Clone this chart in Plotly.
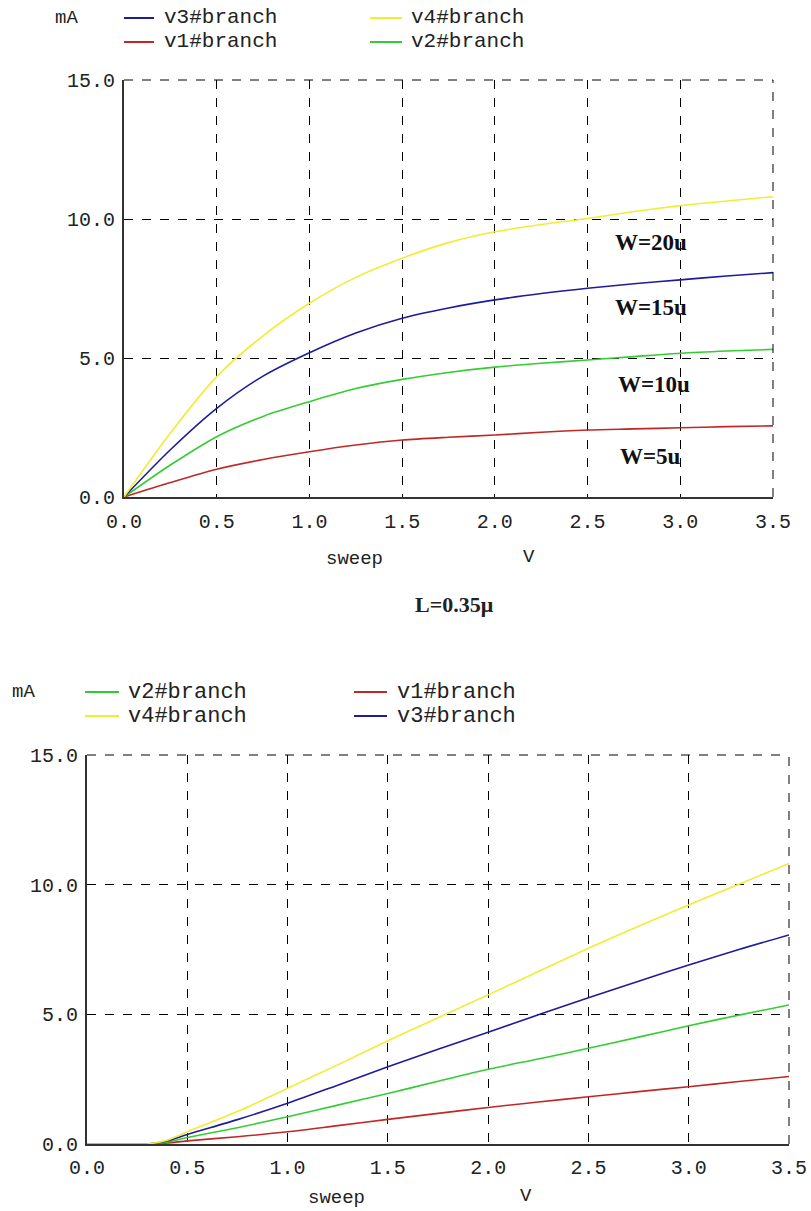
import plotly.graph_objects as go

# ---------------- data ----------------
# Top chart (L = 0.35u): saturating curves
x_top = [0.0, 0.25, 0.5, 0.75, 1.0, 1.25, 1.5, 1.75, 2.0, 2.25, 2.5, 2.75, 3.0, 3.25, 3.5]
top_v4 = [0.0, 2.3, 4.33, 5.8, 6.97, 7.9, 8.59, 9.15, 9.54, 9.8, 10.02, 10.27, 10.48, 10.65, 10.8]
top_v3 = [0.0, 1.7, 3.19, 4.35, 5.19, 5.9, 6.43, 6.8, 7.09, 7.32, 7.51, 7.67, 7.81, 7.95, 8.07]
top_v2 = [0.0, 1.15, 2.17, 2.9, 3.43, 3.9, 4.23, 4.48, 4.67, 4.81, 4.93, 5.05, 5.17, 5.25, 5.31]
top_v1 = [0.0, 0.52, 1.0, 1.35, 1.63, 1.87, 2.05, 2.15, 2.23, 2.33, 2.41, 2.45, 2.49, 2.53, 2.56]

# Bottom chart: threshold then near-linear
x_bot = [0.0, 0.25, 0.3, 0.4, 0.5, 0.75, 1.0, 1.25, 1.5, 1.75, 2.0, 2.25, 2.5, 2.75, 3.0, 3.25, 3.5]
bot_v4 = [0.0, 0.0, 0.0, 0.15, 0.47, 1.25, 2.15, 3.05, 3.98, 4.87, 5.75, 6.65, 7.55, 8.4, 9.22, 10.02, 10.82]
bot_v3 = [0.0, 0.0, 0.0, 0.12, 0.37, 0.94, 1.57, 2.27, 2.98, 3.65, 4.31, 4.98, 5.64, 6.28, 6.9, 7.5, 8.06]
bot_v2 = [0.0, 0.0, 0.0, 0.08, 0.25, 0.63, 1.05, 1.5, 1.95, 2.42, 2.88, 3.28, 3.69, 4.12, 4.56, 4.97, 5.36]
bot_v1 = [0.0, 0.0, 0.0, 0.04, 0.12, 0.28, 0.47, 0.71, 0.95, 1.18, 1.41, 1.62, 1.82, 2.02, 2.21, 2.41, 2.6]

x_ticks = [0.0, 0.5, 1.0, 1.5, 2.0, 2.5, 3.0, 3.5]
y_ticks = [0.0, 5.0, 10.0, 15.0]
w_labels = ["W=20u", "W=15u", "W=10u", "W=5u"]
w_label_pos = [(2.84, 9.17), (2.84, 6.83), (2.86, 4.03), (2.84, 1.44)]

C_YEL = "#eeee33"
C_BLU = "#1c1c9c"
C_GRN = "#33cc33"
C_RED = "#c02828"

MONO = "Liberation Mono"
SERIF = "Liberation Serif"

fig = go.Figure()

def add(x, y, color, xa, ya, name):
    fig.add_trace(go.Scatter(x=x, y=y, mode="lines", name=name, showlegend=False,
                             line=dict(color=color, width=1.6, shape="spline", smoothing=0.8),
                             xaxis=xa, yaxis=ya))

# top traces
add(x_top, top_v1, C_RED, "x", "y", "v1#branch")
add(x_top, top_v2, C_GRN, "x", "y", "v2#branch")
add(x_top, top_v3, C_BLU, "x", "y", "v3#branch")
add(x_top, top_v4, C_YEL, "x", "y", "v4#branch")
# bottom traces
add(x_bot, bot_v1, C_RED, "x2", "y2", "v1#branch")
add(x_bot, bot_v2, C_GRN, "x2", "y2", "v2#branch")
add(x_bot, bot_v3, C_BLU, "x2", "y2", "v3#branch")
add(x_bot, bot_v4, C_YEL, "x2", "y2", "v4#branch")

W, H = 811, 1211
def px(v):
    return v / W
def py(v):
    return 1 - v / H

axis_common = dict(
    showgrid=True, gridcolor="black", gridwidth=1, griddash="dash",
    showline=True, linecolor="#333333", linewidth=2, zeroline=False,
    ticks="", tickfont=dict(family=MONO, size=20, color="#222222"),
    tickformat=".1f", mirror=False, automargin=False,
)

fig.update_layout(
    width=W, height=H, autosize=False,
    margin=dict(l=0, r=0, t=0, b=0, pad=0, autoexpand=False),
    showlegend=False,
    paper_bgcolor="white", plot_bgcolor="white",
    xaxis=dict(domain=[px(124), px(773)], range=[0, 3.5], tickvals=x_ticks, anchor="y",
               ticklabelstandoff=5, **axis_common),
    yaxis=dict(domain=[py(497), py(80)], range=[0, 15], tickvals=y_ticks, anchor="x",
               ticklabelstandoff=3, **axis_common),
    xaxis2=dict(domain=[px(87), px(789)], range=[0, 3.5], tickvals=x_ticks, anchor="y2",
                ticklabelstandoff=4, **axis_common),
    yaxis2=dict(domain=[py(1144), py(755)], range=[0, 15], tickvals=y_ticks, anchor="x2",
                ticklabelstandoff=3, **axis_common),
)

# top and right dashed borders
for xr, yr in (("x", "y"), ("x2", "y2")):
    fig.add_shape(type="line", xref=xr + " domain", yref=yr + " domain", x0=0, x1=1, y0=1, y1=1,
                  line=dict(color="black", width=1, dash="dash"))
    fig.add_shape(type="line", xref=xr + " domain", yref=yr + " domain", x0=1, x1=1, y0=0, y1=1,
                  line=dict(color="black", width=1, dash="dash"))

ann = []
def txt(x, y, s, size=18, family=MONO, bold=False, xanchor="center"):
    ann.append(dict(x=px(x), y=py(y), xref="paper", yref="paper", text=("<b>%s</b>" % s) if bold else s,
                    showarrow=False, xanchor=xanchor, yanchor="middle",
                    font=dict(family=family, size=size, color="#222222")))

def legline(x0, x1, y, color):
    fig.add_shape(type="line", xref="paper", yref="paper", x0=px(x0), x1=px(x1), y0=py(y), y1=py(y),
                  line=dict(color=color, width=2))

# top legend
txt(53, 18, "mA", size=19, xanchor="left")
legline(124, 154, 18, C_BLU); txt(162, 18, "v3#branch", size=21, xanchor="left")
legline(370, 402, 18, C_YEL); txt(409, 18, "v4#branch", size=21, xanchor="left")
legline(124, 154, 42, C_RED); txt(162, 42, "v1#branch", size=21, xanchor="left")
legline(370, 402, 42, C_GRN); txt(409, 42, "v2#branch", size=21, xanchor="left")

# bottom legend
txt(10, 692, "mA", size=19, xanchor="left")
legline(85, 119, 692, C_GRN); txt(126, 692, "v2#branch", size=22, xanchor="left")
legline(354, 387, 692, C_RED); txt(395, 692, "v1#branch", size=22, xanchor="left")
legline(85, 119, 716, C_YEL); txt(126, 716, "v4#branch", size=22, xanchor="left")
legline(354, 387, 716, C_BLU); txt(395, 716, "v3#branch", size=22, xanchor="left")

# axis titles
txt(354, 559, "sweep", size=19)
txt(529, 557, "V", size=19)
txt(336, 1198, "sweep", size=19)
txt(526, 1196, "V", size=19)

# L label
txt(454, 604, "L=0.35μ", size=22, family=SERIF, bold=True)

fig.update_layout(annotations=ann)

# W labels on top chart (data coords)
for s, (xv, yv) in zip(w_labels, w_label_pos):
    fig.add_annotation(x=xv, y=yv, xref="x", yref="y", text="<b>%s</b>" % s, showarrow=False,
                       font=dict(family=SERIF, size=23, color="#111111"))

fig.write_html("out.html", config={"displayModeBar": False},
               post_script="document.body.style.margin='0';document.body.style.overflow='hidden';")
